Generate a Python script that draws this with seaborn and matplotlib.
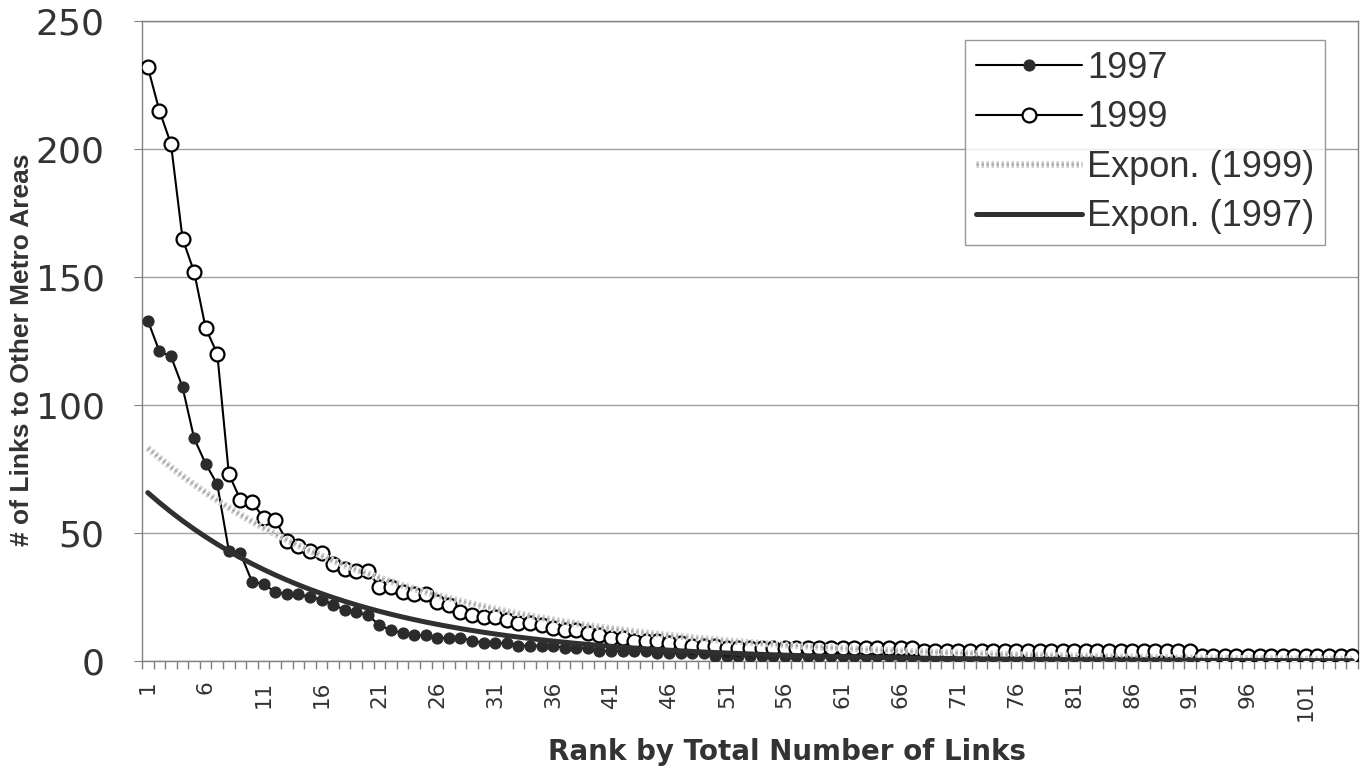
import numpy as np
import pandas as pd
import matplotlib
matplotlib.use("Agg")
import matplotlib.pyplot as plt
import matplotlib.patheffects as pe
import seaborn as sns

# ---- Data ----
ranks = list(range(1, 106))

links_1997 = [133, 121, 119, 107, 87, 77, 69, 43, 42, 31,
              30, 27, 26, 26, 25, 24, 22, 20, 19, 18,
              14, 12, 11, 10, 10, 9, 9, 9, 8, 7,
              7, 7, 6, 6, 6, 6, 5, 5, 5, 4,
              4, 4, 4, 4, 3, 3, 3, 3, 3, 2,
              2, 2, 2, 2, 2, 2, 2, 2, 2, 2,
              2, 2, 2, 2, 2, 2, 2, 2, 2, 2,
              2, 2, 2, 2, 2, 2, 2, 2, 2, 2,
              2, 2, 2, 2, 2, 2, 2, 2, 2, 2,
              2, 2, 2, 2, 2, 2, 2, 2, 2, 2,
              2, 2, 2, 2, 2]

links_1999 = [232, 215, 202, 165, 152, 130, 120, 73, 63, 62,
              56, 55, 47, 45, 43, 42, 38, 36, 35, 35,
              29, 29, 27, 26, 26, 23, 22, 19, 18, 17,
              17, 16, 15, 15, 14, 13, 12, 12, 11, 10,
              9, 9, 8, 8, 8, 7, 7, 6, 6, 6,
              5, 5, 5, 5, 5, 5, 5, 5, 5, 5,
              5, 5, 5, 5, 5, 5, 5, 4, 4, 4,
              4, 4, 4, 4, 4, 4, 4, 4, 4, 4,
              4, 4, 4, 4, 4, 4, 4, 4, 4, 4,
              4, 2, 2, 2, 2, 2, 2, 2, 2, 2,
              2, 2, 2, 2, 2]

# Excel "Expon." trendlines y = a * exp(b * x), coefficients
trend_1999_a, trend_1999_b = 87.2, -0.047
trend_1997_a, trend_1997_b = 69.9, -0.061

xtick_labels = [str(r) for r in range(1, 106, 5)]

df = pd.DataFrame({"rank": ranks, "y1997": links_1997, "y1999": links_1999})
df["exp1999"] = trend_1999_a * np.exp(trend_1999_b * df["rank"])
df["exp1997"] = trend_1997_a * np.exp(trend_1997_b * df["rank"])

# ---- Plot ----
sns.set_style("white")
plt.rcParams["font.family"] = ["Liberation Sans", "DejaVu Sans"]

fig, ax = plt.subplots(figsize=(13.7, 7.66), dpi=100)
fig.subplots_adjust(left=142/1370, right=1358/1370, top=1-21/766, bottom=1-661/766)

sns.lineplot(data=df, x="rank", y="y1997", ax=ax, color="black", lw=1.5,
             marker="o", markersize=8, markerfacecolor="#2b2b2b",
             markeredgecolor="#2b2b2b", label="1997", zorder=3)
sns.lineplot(data=df, x="rank", y="y1999", ax=ax, color="black", lw=1.5,
             marker="o", markersize=10, markerfacecolor="white",
             markeredgecolor="black", markeredgewidth=1.6, label="1999", zorder=4)
sns.lineplot(data=df, x="rank", y="exp1999", ax=ax, color="#adadad", lw=1.8,
             linestyle=(0, (1, 1)), label="Expon. (1999)", zorder=5,
             path_effects=[pe.Stroke(linewidth=5, foreground="#d0d0d0"), pe.Normal()])
sns.lineplot(data=df, x="rank", y="exp1997", ax=ax, color="#303030", lw=3.6,
             label="Expon. (1997)", zorder=6)

ax.set_xlim(0.5, 105.5)
ax.set_ylim(0, 250)
ax.set_yticks(range(0, 251, 50))
ax.set_xticks(range(1, 106, 5))
ax.set_xticklabels(xtick_labels, rotation=90, family="DejaVu Sans")
ax.set_xticks(np.arange(0.5, 106, 1), minor=True)
ax.tick_params(axis="x", which="major", length=0, labelsize=15.5, pad=14, colors="#333333")
ax.tick_params(axis="x", which="minor", length=5.5, color="#808080", width=1,
               direction="out", bottom=True)
ax.tick_params(axis="y", length=6, color="#808080", labelsize=26, pad=21,
               labelcolor="#333333", left=True)
for lab in ax.get_yticklabels():
    lab.set_family("DejaVu Sans")

ax.yaxis.grid(True, color="#a0a0a0", lw=1)
ax.set_axisbelow(True)
for s in ax.spines.values():
    s.set_color("#808080")
    s.set_linewidth(1)

ax.set_xlabel("Rank by Total Number of Links", fontsize=20, fontweight="bold",
              color="#333333", family="DejaVu Sans")
ax.set_ylabel("# of Links to Other Metro Areas", fontsize=19, fontweight="bold",
              color="#333333")
ax.xaxis.set_label_coords((787-142)/1216, -(738-661)/640)
ax.yaxis.set_label_coords(-(142-34)/1216, (661-350)/640)

leg = ax.legend(loc="upper right", bbox_to_anchor=(0.973, 0.970), borderaxespad=0,
                fontsize=26, frameon=True, fancybox=False, edgecolor="#808080",
                handlelength=2.93, handletextpad=0.15, labelspacing=0.4,
                borderpad=0.3)
leg.get_frame().set_linewidth(1)
for t in leg.get_texts():
    t.set_color("#333333")

plt.savefig("out.png", dpi=100)
